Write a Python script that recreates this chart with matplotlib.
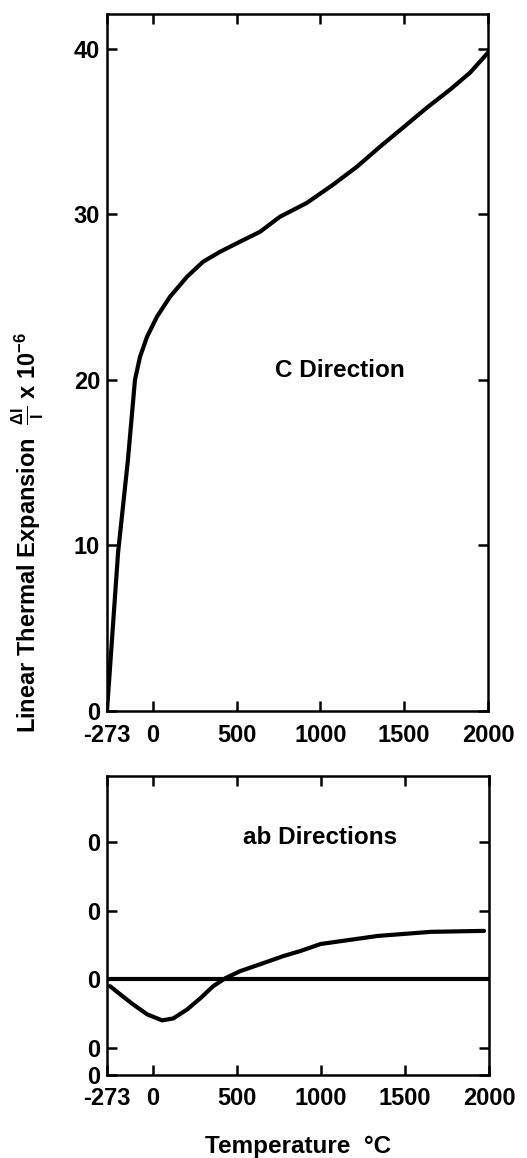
import matplotlib
matplotlib.use("Agg")
import matplotlib.pyplot as plt

plt.rcParams['font.family'] = ['Liberation Sans', 'DejaVu Sans']
plt.rcParams['font.weight'] = 'bold'
plt.rcParams['mathtext.fontset'] = 'custom'
plt.rcParams['mathtext.rm'] = 'Liberation Sans:bold'
plt.rcParams['mathtext.it'] = 'Liberation Sans:bold'
plt.rcParams['mathtext.bf'] = 'Liberation Sans:bold'

# C direction data (temperature in deg C, expansion x 1e-6)
c_temp = [-273, -207, -148, -106, -76, -34, 25, 103, 204, 300, 401, 520, 640,
          759, 920, 1075, 1218, 1356, 1493, 1636, 1773, 1893, 2000]
c_val = [0.0, 9.55, 15.17, 20.0, 21.39, 22.6, 23.81, 25.02, 26.22, 27.13,
         27.73, 28.34, 28.94, 29.85, 30.69, 31.78, 32.87, 34.08, 35.23, 36.44,
         37.52, 38.55, 39.76]

# ab directions data
ab_temp = [-255, -195, -118, -34, 55, 121, 204, 282, 359, 431, 520, 640, 777,
           878, 998, 1338, 1654, 1970]
ab_val = [-0.51, -1.10, -1.84, -2.57, -3.01, -2.87, -2.21, -1.40, -0.51, 0.07,
          0.59, 1.10, 1.69, 2.06, 2.57, 3.16, 3.46, 3.53]

x_ticks = [-273, 0, 500, 1000, 1500, 2000]
x_ticklabels = ['-273', '0', '500', '1000', '1500', '2000']
c_yticks = [0, 10, 20, 30, 40]
ab_yticks = [-7.0, -5, 0, 5, 10]
ab_yticklabels = ['0', '0', '0', '0', '0']

fig = plt.figure(figsize=(5.27, 11.58), dpi=100)
ax1 = fig.add_axes([0.203, 0.386, 0.723, 0.602])
ax2 = fig.add_axes([0.203, 0.0717, 0.725, 0.2582])

lw_spine = 1.8
for ax in (ax1, ax2):
    for s in ax.spines.values():
        s.set_linewidth(lw_spine)
    ax.tick_params(direction='in', length=7, width=1.8, top=True, right=True,
                   labelsize=17)
    ax.tick_params(axis='x', pad=9)
    ax.tick_params(axis='y', pad=5)
    ax.set_xlim(-273, 2000)
    ax.set_xticks(x_ticks)
    ax.set_xticklabels(x_ticklabels, fontweight='bold')

ax1.plot(c_temp, c_val, color='black', lw=3, solid_capstyle='round',
         solid_joinstyle='round')
ax1.set_ylim(0, 42.1)
ax1.set_yticks(c_yticks)
ax1.set_yticklabels([str(v) for v in c_yticks], fontweight='bold')
ax1.text(0.612, 0.488, 'C Direction', transform=ax1.transAxes, ha='center',
         va='center', fontsize=17.5, fontweight='bold')

ax2.axhline(0, color='black', lw=3)
ax2.plot(ab_temp, ab_val, color='black', lw=3, solid_capstyle='round',
         solid_joinstyle='round')
ax2.set_ylim(-7.0, 14.85)
ax2.set_yticks(ab_yticks)
ax2.set_yticklabels(ab_yticklabels, fontweight='bold')
ax2.text(0.559, 0.793, 'ab Directions', transform=ax2.transAxes, ha='center',
         va='center', fontsize=17.5, fontweight='bold')
ax2.set_xlabel('Temperature  \u00b0C', fontsize=17.5, fontweight='bold', labelpad=18)

fig.text(0.053, 0.540, r'Linear Thermal Expansion  $\frac{\Delta l}{l}$ x 10$^{-6}$',
         rotation=90, ha='center', va='center', fontsize=17, fontweight='bold')

fig.savefig('out.png', dpi=100)
